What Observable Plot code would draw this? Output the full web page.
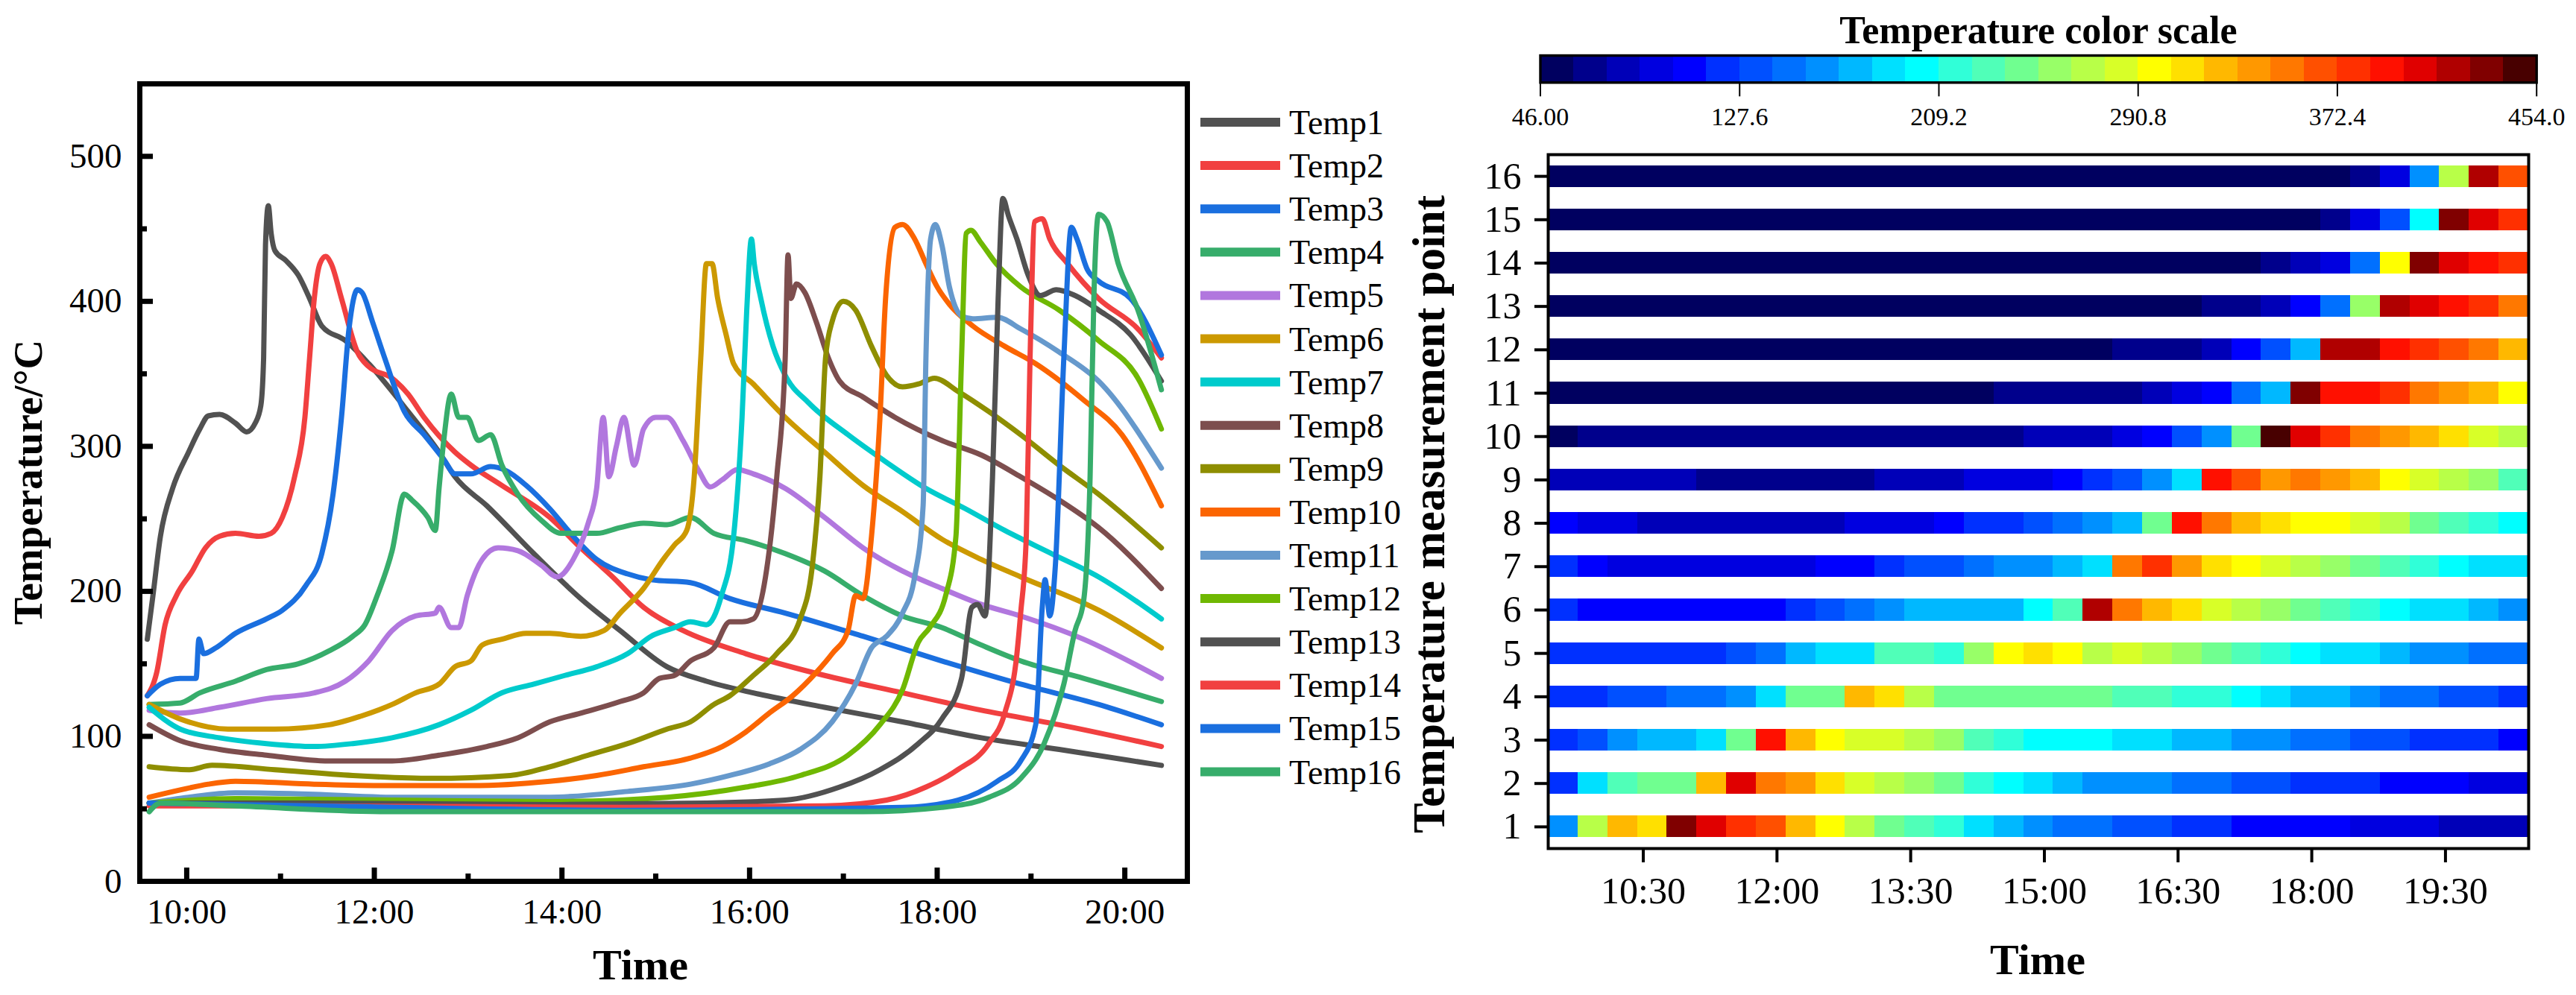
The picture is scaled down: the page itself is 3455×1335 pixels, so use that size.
<!DOCTYPE html>
<html><head><meta charset="utf-8">
<script src="https://cdn.jsdelivr.net/npm/d3@7"></script>
<script src="https://cdn.jsdelivr.net/npm/@observablehq/plot@0.6"></script>
<style>
html,body{margin:0;padding:0;background:#fff;}
#root{position:relative;width:3455px;height:1335px;overflow:hidden;font-family:"Liberation Serif","Times New Roman",serif;}
#root > svg{position:absolute;left:0;top:0;max-width:none !important;}
#root svg text{font-family:"Liberation Serif","Times New Roman",serif !important;}
</style></head><body><div id="root"></div>
<script>
// ---------------- data: line chart (hour of day, °C) ----------------
const seriesNames = ["Temp1","Temp2","Temp3","Temp4","Temp5","Temp6","Temp7","Temp8","Temp9","Temp10","Temp11","Temp12","Temp13","Temp14","Temp15","Temp16"];
const seriesColors = ["#515151","#F14040","#1A6FDF","#37AD6B","#B177DE","#CC9900","#00CBCC","#7D4E4E","#8E8E00","#FB6501","#6699CC","#6FB802","#515151","#F14040","#1A6FDF","#37AD6B"];

const temp1 = [[9.58,167],[9.64,197],[9.72,238],[9.85,271],[10.02,296],[10.14,312],[10.23,321],[10.35,322],[10.52,316],[10.64,310],[10.73,316],[10.79,328],[10.82,361],[10.84,439],[10.87,466],[10.9,447],[10.94,435],[11.06,428],[11.19,418],[11.31,402],[11.44,383],[11.69,373],[11.94,357],[12.36,324],[12.69,296],[12.86,279],[13.2,259],[13.7,226],[14.2,195],[14.62,173],[15.12,148],[15.54,138],[16.04,130],[16.8,120],[17.63,110],[18.47,99],[19.3,91],[20.39,80]];
const temp2 = [[9.58,128],[9.68,144],[9.77,177],[9.89,197],[10.06,214],[10.2,230],[10.35,238],[10.52,240],[10.77,238],[10.9,240],[11.02,251],[11.15,279],[11.26,320],[11.31,361],[11.36,402],[11.42,426],[11.48,431],[11.54,426],[11.65,402],[11.82,365],[11.94,355],[12.19,347],[12.36,336],[12.53,320],[12.86,296],[13.03,287],[13.36,273],[13.87,251],[14.2,230],[14.54,210],[14.87,189],[15.29,173],[15.96,157],[16.8,142],[17.63,130],[18.47,118],[19.3,108],[20.39,93]];
const temp3 = [[9.58,128],[9.72,136],[9.93,140],[10.1,140],[10.13,167],[10.18,157],[10.31,161],[10.52,171],[10.85,181],[11.02,187],[11.27,204],[11.44,226],[11.56,267],[11.65,320],[11.73,381],[11.82,408],[11.87,406],[11.98,386],[12.11,361],[12.32,324],[12.53,308],[12.74,291],[12.86,281],[13.03,281],[13.24,286],[13.41,283],[13.62,273],[13.87,257],[14.12,238],[14.37,222],[14.7,212],[14.95,208],[15.37,206],[15.79,195],[16.38,185],[17.21,169],[18.05,152],[18.89,136],[19.72,122],[20.39,108]];
const temp4 = [[9.6,122],[9.93,123],[10.14,130],[10.52,138],[10.85,146],[11.19,150],[11.52,159],[11.77,169],[11.9,177],[12.03,197],[12.19,228],[12.32,267],[12.4,263],[12.57,251],[12.65,242],[12.69,271],[12.74,304],[12.82,336],[12.9,320],[12.99,320],[13.11,304],[13.24,308],[13.36,287],[13.53,267],[13.78,249],[13.99,240],[14.37,240],[14.62,244],[14.87,247],[15.12,246],[15.37,251],[15.62,240],[15.96,235],[16.38,226],[16.8,214],[17.21,197],[17.63,183],[18.05,175],[18.47,163],[18.89,152],[19.56,140],[20.39,124]];
const temp5 = [[9.6,118],[9.93,116],[10.35,120],[10.85,126],[11.36,130],[11.69,138],[11.94,152],[12.19,173],[12.44,183],[12.65,185],[12.69,189],[12.82,175],[12.9,175],[12.99,197],[13.15,222],[13.32,230],[13.53,228],[13.78,218],[13.95,210],[14.12,222],[14.28,247],[14.37,271],[14.44,320],[14.5,279],[14.58,300],[14.66,320],[14.77,287],[14.87,312],[15.0,320],[15.12,320],[15.29,304],[15.46,283],[15.58,272],[15.71,277],[15.87,284],[16.04,281],[16.38,271],[16.8,251],[17.21,230],[17.63,214],[18.05,202],[18.47,191],[18.89,183],[19.56,167],[20.39,140]];
const temp6 = [[9.6,122],[9.93,112],[10.44,105],[10.94,105],[11.52,108],[11.86,114],[12.19,122],[12.44,130],[12.69,136],[12.86,148],[13.03,152],[13.15,163],[13.36,167],[13.62,171],[13.87,171],[14.2,169],[14.45,173],[14.62,185],[14.87,202],[15.08,222],[15.2,232],[15.33,242],[15.41,279],[15.48,361],[15.54,426],[15.6,426],[15.66,402],[15.75,377],[15.83,357],[16.04,343],[16.38,320],[16.8,296],[17.21,273],[17.63,255],[18.05,236],[18.47,222],[18.89,210],[19.72,187],[20.39,161]];
const temp7 = [[9.6,120],[9.93,105],[10.35,99],[10.85,95],[11.36,93],[11.77,95],[12.19,99],[12.69,108],[13.03,118],[13.36,130],[13.7,136],[14.03,142],[14.37,148],[14.7,157],[14.95,169],[15.2,175],[15.37,179],[15.54,177],[15.7,197],[15.83,238],[15.92,320],[15.97,394],[16.02,443],[16.05,426],[16.12,402],[16.25,369],[16.38,349],[16.63,330],[17.05,308],[17.46,289],[17.88,271],[18.3,257],[18.72,242],[19.22,226],[19.72,210],[20.39,181]];
const temp8 = [[9.6,108],[9.93,97],[10.35,91],[10.85,87],[11.52,83],[12.19,83],[12.69,87],[13.2,93],[13.53,99],[13.87,110],[14.2,116],[14.62,124],[14.87,130],[15.04,140],[15.2,142],[15.37,152],[15.62,161],[15.79,179],[15.92,179],[16.04,181],[16.17,210],[16.29,279],[16.38,361],[16.41,432],[16.44,402],[16.5,412],[16.59,406],[16.71,386],[16.84,361],[16.96,345],[17.21,334],[17.55,320],[18.05,304],[18.47,294],[18.89,279],[19.3,263],[19.72,244],[20.39,202]];
const temp9 = [[9.6,79],[10.02,77],[10.27,80],[10.94,77],[11.77,73],[12.61,71],[13.45,73],[13.87,79],[14.28,87],[14.7,95],[15.12,105],[15.37,110],[15.62,122],[15.79,128],[16.04,142],[16.29,157],[16.54,181],[16.67,218],[16.75,279],[16.81,361],[16.88,386],[17.0,400],[17.13,394],[17.3,369],[17.46,349],[17.63,341],[17.8,343],[17.97,347],[18.22,338],[18.55,324],[18.89,308],[19.3,287],[19.72,267],[20.39,230]];
const temp10 = [[9.6,58],[9.93,63],[10.23,67],[10.52,69],[11.36,67],[12.19,66],[13.03,66],[13.87,69],[14.37,73],[14.87,79],[15.37,85],[15.71,93],[15.96,103],[16.21,116],[16.46,128],[16.71,144],[16.88,157],[17.05,173],[17.13,197],[17.21,195],[17.3,238],[17.39,320],[17.45,402],[17.55,451],[17.63,453],[17.76,443],[17.88,426],[18.0,410],[18.13,398],[18.38,383],[18.72,369],[19.05,357],[19.56,332],[19.97,308],[20.39,259]];
const temp11 = [[9.6,54],[10.02,58],[10.52,61],[11.36,60],[12.19,58],[13.03,58],[13.87,58],[14.7,62],[15.37,67],[15.79,73],[16.21,81],[16.54,91],[16.88,110],[17.13,136],[17.3,161],[17.46,169],[17.63,185],[17.76,210],[17.85,259],[17.88,361],[17.93,443],[17.98,453],[18.05,439],[18.13,410],[18.26,390],[18.38,388],[18.64,389],[18.89,381],[19.3,365],[19.72,345],[20.39,285]];
const temp12 = [[9.6,54],[10.52,57],[12.19,56],[13.87,55],[15.12,58],[15.96,65],[16.54,73],[17.05,87],[17.39,108],[17.63,132],[17.8,165],[17.92,175],[18.09,197],[18.2,238],[18.26,361],[18.31,447],[18.36,449],[18.46,441],[18.63,426],[18.89,410],[19.3,394],[19.72,373],[20.14,347],[20.39,312]];
const temp13 = [[9.6,54],[11.36,54],[13.87,53],[15.54,54],[16.38,56],[16.96,65],[17.39,77],[17.8,95],[18.05,112],[18.26,140],[18.37,189],[18.43,191],[18.51,183],[18.59,279],[18.65,402],[18.7,471],[18.76,459],[18.85,443],[18.97,418],[19.1,404],[19.27,408],[19.47,404],[19.72,394],[20.06,377],[20.39,345]];
const temp14 = [[9.6,52],[11.36,52],[14.7,51],[16.8,52],[17.46,56],[17.88,65],[18.22,77],[18.55,95],[18.72,116],[18.85,157],[18.89,185],[18.95,238],[18.99,361],[19.04,455],[19.12,457],[19.2,443],[19.39,426],[19.72,402],[20.14,381],[20.39,361]];
const temp15 = [[9.6,54],[11.36,52],[14.7,49],[17.63,51],[18.22,56],[18.64,69],[18.89,83],[19.05,108],[19.12,189],[19.15,208],[19.2,183],[19.26,218],[19.35,361],[19.43,451],[19.49,443],[19.6,422],[19.72,414],[20.06,402],[20.39,363]];
const temp16 = [[9.6,48],[9.72,54],[10.52,52],[12.19,48],[14.7,48],[17.21,48],[18.05,51],[18.55,58],[18.89,71],[19.14,95],[19.35,136],[19.47,173],[19.56,193],[19.63,279],[19.67,402],[19.72,460],[19.81,455],[19.93,426],[20.14,394],[20.39,339]];
const allSeries = [temp1,temp2,temp3,temp4,temp5,temp6,temp7,temp8,temp9,temp10,temp11,temp12,temp13,temp14,temp15,temp16];

const lineXTicksMajor = [10,12,14,16,18,20];
const lineXTicksMinor = [11,13,15,17,19];
const lineYTicksMajor = [0,100,200,300,400,500];
const lineYTicksMinor = [50,150,250,350,450];

// ---------------- data: heat map (mean °C per 20-min bin, points 1..16) ----------------
const heatStartHour = 9 + 26/60;
const heatBinHours = 20/60;
const heatPoint1  = [162,270,325,311,434,406,379,366,325,298,270,243,230,216,189,175,162,148,148,134,134,121,121,107,107,107,107,94,94,94,80,80,80];
const heatPoint2  = [121,189,230,243,243,325,406,352,338,311,284,270,257,243,216,202,189,175,162,162,162,148,148,134,134,121,121,121,107,107,107,94,94];
const heatPoint3  = [121,134,162,175,175,189,243,393,325,298,284,284,270,257,230,216,202,202,202,189,189,175,175,162,162,148,148,134,134,121,121,121,107];
const heatPoint4  = [121,121,134,134,148,148,162,189,243,243,325,311,270,243,243,243,243,243,243,230,230,216,216,202,189,175,175,162,148,148,134,134,121];
const heatPoint5  = [121,121,121,121,121,121,134,148,175,189,189,230,230,216,257,298,311,298,270,284,270,257,243,230,216,202,189,189,175,162,162,148,148];
const heatPoint6  = [121,107,107,107,107,107,107,107,121,134,148,162,175,175,175,175,202,230,420,352,325,311,284,270,257,243,230,216,202,189,189,175,162];
const heatPoint7  = [121,107,94,94,94,94,94,94,94,107,107,121,134,134,148,162,162,175,189,352,379,338,311,298,284,270,257,243,230,216,202,189,189];
const heatPoint8  = [107,94,94,80,80,80,80,80,80,80,94,94,94,107,121,121,134,148,162,175,243,393,352,325,311,298,298,284,270,243,230,216,202];
const heatPoint9  = [80,80,80,80,80,66,66,66,66,66,66,80,80,80,94,94,94,107,121,134,162,189,393,366,338,352,338,325,298,284,270,257,230];
const heatPoint10 = [53,66,66,66,66,66,66,66,66,66,66,66,66,66,66,66,80,80,80,94,107,134,162,243,447,406,379,352,338,325,311,284,270];
const heatPoint11 = [53,53,53,53,53,53,53,53,53,53,53,53,53,53,53,66,66,66,66,66,80,94,107,148,175,434,393,393,379,352,338,325,298];
const heatPoint12 = [53,53,53,53,53,53,53,53,53,53,53,53,53,53,53,53,53,53,53,66,66,66,80,107,134,175,420,420,393,379,366,352,325];
const heatPoint13 = [53,53,53,53,53,53,53,53,53,53,53,53,53,53,53,53,53,53,53,53,53,53,66,66,80,107,148,257,420,406,393,379,352];
const heatPoint14 = [53,53,53,53,53,53,53,53,53,53,53,53,53,53,53,53,53,53,53,53,53,53,53,53,66,80,94,148,298,434,406,393,379];
const heatPoint15 = [53,53,53,53,53,53,53,53,53,53,53,53,53,53,53,53,53,53,53,53,53,53,53,53,53,53,66,94,134,202,434,406,379];
const heatPoint16 = [53,53,53,53,53,53,53,53,53,53,53,53,53,53,53,53,53,53,53,53,53,53,53,53,53,53,53,66,94,162,270,420,366];
const heatRows = [heatPoint1,heatPoint2,heatPoint3,heatPoint4,heatPoint5,heatPoint6,heatPoint7,heatPoint8,heatPoint9,heatPoint10,heatPoint11,heatPoint12,heatPoint13,heatPoint14,heatPoint15,heatPoint16];
const heatPoints = [16,15,14,13,12,11,10,9,8,7,6,5,4,3,2,1];
const heatXTicks = [10.5,12,13.5,15,16.5,18,19.5];

// ---------------- data: colour scale ----------------
const scaleMin = 46, scaleMax = 454, scaleSteps = 30;
const scaleColors = ["#000060","#00008c","#0000b8","#0000e0","#0000ff","#0030ff","#0050ff","#0070ff","#0090ff","#00b8ff","#00e0ff","#00ffff","#30ffd8","#50ffb8","#70ff90","#98ff68","#b8ff48","#d8ff28","#ffff00","#ffe000","#ffb800","#ff9800","#ff7800","#ff5000","#ff3000","#ff1000","#e00000","#b00000","#800000","#480000"];
const scaleTicks = [46,127.6,209.2,290.8,372.4,454];

// ---------------- build ----------------
const W = 3455, H = 1335;
const FONT = "'Liberation Serif', 'Times New Roman', serif";
const root = document.getElementById("root");
const stepT = (scaleMax - scaleMin) / scaleSteps;
const thresholds = d3.range(1, scaleSteps).map(i => scaleMin + i * stepT);
const colorCfg = {type: "threshold", domain: thresholds, range: scaleColors};
const baseStyle = `background: transparent; font-family: ${FONT}; overflow: visible; color: black; max-width: none;`;

const lineRows = allSeries.flatMap((s, i) => s.map(([h, v]) => ({name: seriesNames[i], h, v})));
const hh = h => `${Math.floor(h)}:${String(Math.round((h % 1) * 60)).padStart(2, "0")}`;
const txt = {fontFamily: FONT, fill: "black", fontVariant: "normal"};

// left: line chart
const left = Plot.plot({
  width: W, height: H,
  marginLeft: 187, marginRight: W - 1592, marginTop: 112, marginBottom: H - 1182,
  style: baseStyle,
  x: {domain: [9.5, 20 + 40/60]},
  y: {domain: [0, 550]},
  color: {domain: seriesNames, range: seriesColors},
  marks: [
    Plot.line(lineRows, {x: "h", y: "v", z: "name", stroke: "name", strokeWidth: 7, curve: "monotone-x", strokeLinejoin: "round", strokeLinecap: "round"}),
    Plot.frame({stroke: "black", strokeWidth: 7}),
    Plot.axisX(lineXTicksMajor, {tickSize: -18, strokeWidth: 7, stroke: "black", fill: "none", label: null}),
    Plot.axisX(lineXTicksMinor, {tickSize: -10, strokeWidth: 7, stroke: "black", fill: "none", label: null}),
    Plot.axisX(lineXTicksMajor, {tickSize: 0, tickPadding: 23, fontSize: 47, tickFormat: hh, label: null, ...txt}),
    Plot.axisY(lineYTicksMajor, {tickSize: -18, strokeWidth: 7, stroke: "black", fill: "none", label: null}),
    Plot.axisY(lineYTicksMinor, {tickSize: -10, strokeWidth: 7, stroke: "black", fill: "none", label: null}),
    Plot.axisY(lineYTicksMajor, {tickSize: 0, tickPadding: 24, fontSize: 47, label: null, ...txt})
  ]
});
root.appendChild(left);

// right: heat map
const cells = heatRows.flatMap((row, ri) => row.map((t, k) => ({point: ri + 1, t0: heatStartHour + k * heatBinHours, t1: heatStartHour + (k + 1) * heatBinHours, temp: t})));
const heat = Plot.plot({
  width: W, height: H,
  marginLeft: 2076, marginRight: W - 3391, marginTop: 207, marginBottom: H - 1138,
  style: baseStyle,
  x: {domain: [heatStartHour, heatStartHour + 33 * heatBinHours]},
  y: {type: "band", domain: heatPoints, paddingInner: 0.5, paddingOuter: 0.25, round: false},
  color: colorCfg,
  marks: [
    Plot.barX(cells, {x1: "t0", x2: "t1", y: "point", fill: "temp", shapeRendering: "crispEdges"}),
    Plot.frame({stroke: "black", strokeWidth: 4}),
    Plot.axisX(heatXTicks, {tickSize: 19, strokeWidth: 4, stroke: "black", tickPadding: 19, fontSize: 50, tickFormat: hh, label: null, ...txt}),
    Plot.axisY({tickSize: 18, strokeWidth: 4, stroke: "black", tickPadding: 18, fontSize: 50, label: null, ...txt})
  ]
});
root.appendChild(heat);

// colour bar
const steps = d3.range(scaleSteps).map(i => ({lo: scaleMin + i * stepT, hi: scaleMin + (i + 1) * stepT, mid: scaleMin + (i + 0.5) * stepT}));
const bar = Plot.plot({
  width: W, height: H,
  marginLeft: 2065.5, marginRight: W - 3401.7, marginTop: 74, marginBottom: H - 110.3,
  style: baseStyle,
  x: {domain: [scaleMin, scaleMax]},
  color: colorCfg,
  marks: [
    Plot.rect(steps, {x1: "lo", x2: "hi", fill: "mid", shapeRendering: "crispEdges"}),
    Plot.frame({stroke: "black", strokeWidth: 3.4}),
    Plot.axisX(scaleTicks, {tickSize: 19, strokeWidth: 2, stroke: "black", tickPadding: 14, fontSize: 34, tickFormat: d => d.toPrecision(4), label: null, ...txt})
  ]
});
root.appendChild(bar);

// titles and legend
const svg = d3.select(root).append("svg").attr("width", W).attr("height", H).style("font-family", FONT);
function title(t, x, y, size, rot) {
  const e = svg.append("text").attr("text-anchor", "middle").attr("font-weight", "bold").attr("font-size", size).text(t);
  e.attr("transform", `translate(${x},${y})` + (rot ? ` rotate(${rot})` : ""));
}
title("Time", 859, 1314, 58);
title("Temperature/°C", 56, 647, 55, -90);
title("Temperature color scale", 2734, 58, 52);
title("Temperature measurement point", 1937, 690, 61, -90);
title("Time", 2733, 1307, 58);

const leg = svg.append("g");
seriesNames.forEach((n, i) => {
  const y = 164 + 58.1 * i;
  leg.append("line").attr("x1", 1610).attr("x2", 1717).attr("y1", y).attr("y2", y).attr("stroke", seriesColors[i]).attr("stroke-width", 12);
  leg.append("text").attr("x", 1729).attr("y", y + 16).attr("font-size", 46).text(n);
});

// make sure every label uses the serif face
d3.selectAll("#root svg text, #root svg g[aria-label$='axis tick label']").attr("font-family", FONT).style("font-family", FONT);
</script></body></html>
